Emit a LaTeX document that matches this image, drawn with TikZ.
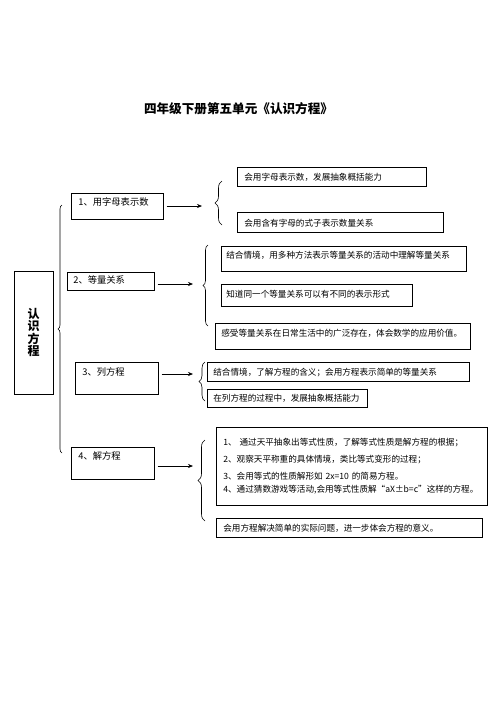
\documentclass[tikz,border=0pt]{standalone}
\usepackage{fontspec}
\setmainfont{Noto Sans CJK SC}
\usetikzlibrary{arrows.meta}
\usetikzlibrary{decorations.pathreplacing}
\usetikzlibrary{positioning}

\tikzset{
	box/.style={draw, line width=0.7pt, anchor=north west, inner ysep=0pt, inner xsep=7pt, align=left},
	mainbox/.style={box, font=\fontsize{9.3}{11}\selectfont},
	subbox/.style={box, font=\fontsize{8.6}{10}\selectfont},
	lbrace/.style={decorate, decoration={brace, amplitude=#1}, line width=0.6pt},
	lbrace/.default=6pt,
	arr/.style={-{Stealth[length=5pt, width=4pt]}, line width=0.6pt, shorten <=3pt}
}

\begin{document}
\begin{tikzpicture}[x=1pt, y=-1pt]
	\useasboundingbox (0,0) rectangle (496,702);

	\node[font=\bfseries\fontsize{12.6}{14}\selectfont] (title) at (238.5,109) {四年级下册第五单元《认识方程》};

	\node[draw, line width=0.8pt, minimum width=39pt, minimum height=123pt, inner sep=0pt,
	      align=center, font=\bfseries\fontsize{12}{12.4}\selectfont] (root) at (33.5,332.5) {认\\识\\方\\程};
	\draw[lbrace=4pt] (62,453) -- (62,205);

	% main boxes
	\node[mainbox, text width=78pt, text height=12.6pt, text depth=13.4pt] (1) at (71,193) {1、用字母表示数};
	\node[mainbox, text width=75pt, text height=11.6pt, text depth=6.4pt, inner xsep=6pt] (2) at (67,272) {2、等量关系};
	\node[mainbox, text width=69pt, text height=13.6pt, text depth=18.4pt] (3) at (75,362) {3、列方程};
	\node[mainbox, text width=69pt, text height=12.6pt, text depth=19.4pt] (4) at (71,447) {4、解方程};

	% arrows
	\coordinate (a1) at (202,206);
	\coordinate (a2) at (193,284);
	\coordinate (a3) at (193,374);
	\coordinate (a4) at (193,466);
	\draw[arr] (1.east |- a1) -- (a1);
	\draw[arr] (2.east |- a2) -- (a2);
	\draw[arr] (3.east |- a3) -- (a3);
	\draw[arr] (4.east |- a4) -- (a4);

	% braces
	\draw[lbrace=7pt] (222,225) -- (222,181);
	\draw[lbrace=5pt] (208,326) -- (208,245);
	\draw[lbrace=6pt] (205,401) -- (205,362);
	\draw[lbrace=7pt] (205,521) -- (205,440);

	% sub boxes
	\node[subbox, text width=175pt, text height=12.9pt, text depth=6.1pt] (1a) at (237,167) {会用字母表示数，发展抽象概括能力};
	\node[subbox, text width=192pt, text height=13.9pt, text depth=6.1pt] (1b) at (237,212) {会用含有字母的式子表示数量关系};

	\node[subbox, text width=235pt, text height=12.5pt, text depth=12.5pt, inner xsep=5pt] (2a) at (221,246) {结合情境，用多种方法表示等量关系的活动中理解等量关系};
	\node[subbox, text width=181pt, text height=13.2pt, text depth=8.8pt, inner xsep=5pt] (2b) at (221,284) {知道同一个等量关系可以有不同的表示形式};
	\node[subbox, text width=243pt, text height=13.5pt, text depth=12.5pt, inner xsep=6pt] (2c) at (215,323) {感受等量关系在日常生活中的广泛存在，体会数学的应用价值。};

	\node[subbox, text width=250pt, text height=13.5pt, text depth=5.5pt, inner xsep=6pt] (3a) at (207,362) {结合情境，了解方程的含义；会用方程表示简单的等量关系};
	\node[subbox, text width=148pt, text height=12.5pt, text depth=5.5pt, inner xsep=6pt] (3b) at (207,389) {在列方程的过程中，发展抽象概括能力};

	\node[subbox, minimum width=271pt, minimum height=78pt, text width=257pt,
	      font=\fontsize{8.6}{17}\selectfont] (4a) at (216,427)
	     {1、 通过天平抽象出等式性质，了解等式性质是解方程的根据；\\
	      2、观察天平称重的具体情境，类比等式变形的过程；\\
	      3、会用等式的性质解形如 2x=10 的简易方程。\\[-4pt]
	      4、通过猜数游戏等活动,会用等式性质解“aX±b=c”这样的方程。};
	\node[subbox, text width=252pt, text height=13.5pt, text depth=5.5pt] (4b) at (216,518) {会用方程解决简单的实际问题，进一步体会方程的意义。};
\end{tikzpicture}
\end{document}
